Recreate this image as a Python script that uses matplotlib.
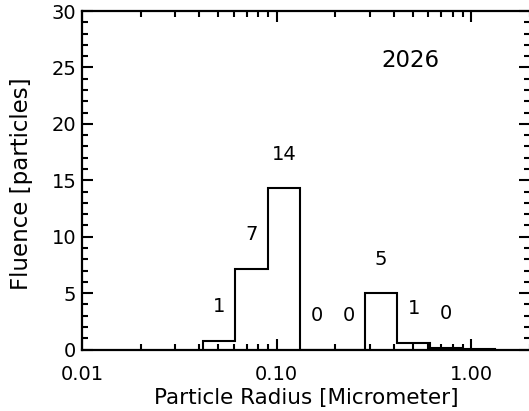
import matplotlib.pyplot as plt
from matplotlib.ticker import FormatStrFormatter, MultipleLocator, LogLocator

# bin edges (log spaced, 6 per decade) and fluence per bin
edges = [0.0417, 0.0612, 0.0898, 0.132, 0.194, 0.284, 0.417, 0.612, 0.898, 1.32]
fluence = [0.78, 7.15, 14.3, 0.0, 0.0, 5.0, 0.6, 0.16, 0.05]
counts = [1, 7, 14, 0, 0, 5, 1, 0]
year = "2026"

fig = plt.figure(figsize=(5.29, 4.11), dpi=100)
ax = fig.add_axes([0.155, 0.1496, 0.847, 0.8236])

ax.stairs(fluence, edges, baseline=0, color="black", lw=1.5)

# count labels above each bin
for i, c in enumerate(counts):
    xc = (edges[i] * edges[i + 1]) ** 0.5
    ax.text(xc, fluence[i] + 3, str(c), ha="center", va="center", fontsize=14)

ax.text(0.345, 25.6, year, ha="left", va="center", fontsize=16.5)

ax.set_xscale("log")
ax.set_xlim(0.01, 2.0)
ax.set_ylim(0, 30)
ax.xaxis.set_major_locator(LogLocator(base=10))
ax.xaxis.set_minor_locator(LogLocator(base=10, subs=range(2, 10)))
ax.xaxis.set_major_formatter(FormatStrFormatter("%.2f"))
ax.yaxis.set_major_locator(MultipleLocator(5))
ax.yaxis.set_minor_locator(MultipleLocator(1))

ax.tick_params(which="both", direction="in", top=True, right=True, width=1.5,
               labelsize=14)
ax.tick_params(which="major", length=8)
ax.tick_params(which="minor", length=4)
ax.tick_params(axis="x", pad=11)
ax.tick_params(axis="y", pad=4)
for s in ax.spines.values():
    s.set_linewidth(1.6)

fig.canvas.draw()
ylabs = ax.get_yticklabels()
ylabs[0].set_va("bottom")
ylabs[-1].set_va("top")

ax.set_xlabel("Particle Radius [Micrometer]", fontsize=15.5, labelpad=3)
ax.set_ylabel("Fluence [particles]", fontsize=16.5)
ax.yaxis.set_label_coords(-0.136, 0.49)
ax.yaxis.label.set_va("center")

fig.savefig("out.png", dpi=100)
